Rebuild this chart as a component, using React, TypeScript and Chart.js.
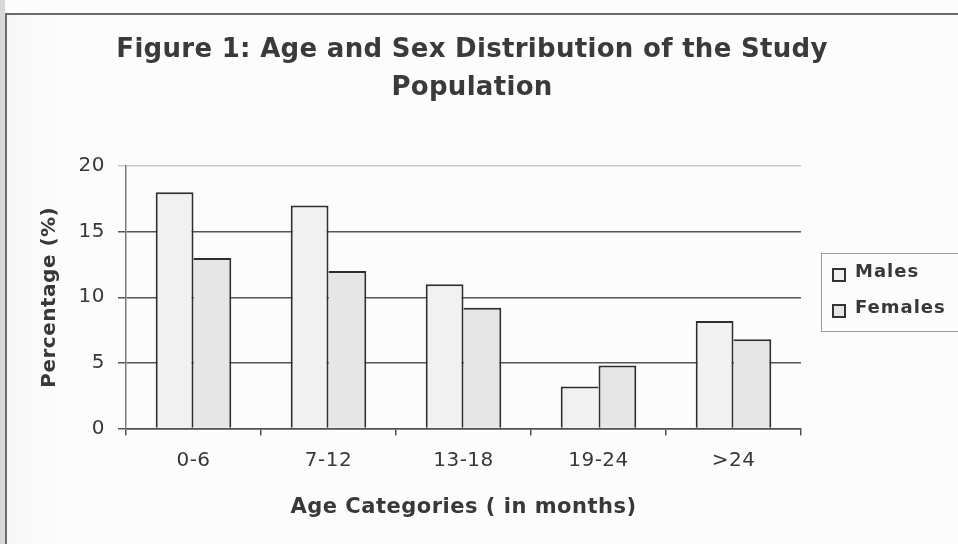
import { useEffect, useRef } from 'react';
import { Chart, registerables } from 'chart.js';

Chart.register(...registerables);

const categories = ['0-6', '7-12', '13-18', '19-24', '>24'];
const males = [18, 17, 11, 3.2, 8.2];
const females = [13, 12, 9.2, 4.8, 6.8];
const seriesLabels = ['Males', 'Females'];
const yTicks = [0, 5, 10, 15, 20];
const titleLines = ['Figure 1: Age and Sex Distribution of the Study', 'Population'];
const xTitle = 'Age Categories ( in months)';
const yTitle = 'Percentage (%)';

const FONT = '"DejaVu Sans", Verdana, sans-serif';
const TEXT = '#383838';

const paperPlugin = {
  id: 'paper',
  beforeDraw(chart: any) {
    const { ctx, width, height } = chart;
    ctx.save();
    ctx.fillStyle = '#fcfcfc';
    ctx.fillRect(0, 0, width, height);
    const g = ctx.createLinearGradient(6, 0, 60, 0);
    g.addColorStop(0, 'rgba(180,180,180,0.08)');
    g.addColorStop(1, 'rgba(180,180,180,0)');
    ctx.fillStyle = g;
    ctx.fillRect(6, 14, 60, height - 14);
    ctx.fillStyle = '#d8d8d8';
    ctx.fillRect(0, 0, 5, height);
    ctx.strokeStyle = '#6a6a6a';
    ctx.lineWidth = 2;
    ctx.beginPath();
    ctx.moveTo(6, height);
    ctx.lineTo(6, 14);
    ctx.lineTo(width, 14);
    ctx.stroke();
    ctx.restore();
    ctx.letterSpacing = '0.5px';
  },
};

const titlePlugin = {
  id: 'figTitle',
  afterDraw(chart: any) {
    const { ctx } = chart;
    ctx.save();
    ctx.letterSpacing = '0.3px';
    ctx.font = `bold 26px ${FONT}`;
    ctx.fillStyle = '#3a3a3a';
    ctx.textAlign = 'center';
    ctx.textBaseline = 'middle';
    titleLines.forEach((t, i) => ctx.fillText(t, 472, 50 + i * 38));
    ctx.restore();
  },
};

const legendPlugin = {
  id: 'boxLegend',
  afterDraw(chart: any) {
    const { ctx } = chart;
    ctx.save();
    ctx.strokeStyle = '#9a9a9a';
    ctx.lineWidth = 1;
    ctx.strokeRect(821.5, 253.5, 200, 78);
    chart.data.datasets.forEach((ds: any, i: number) => {
      const sy = 275 + i * 36;
      ctx.fillStyle = ds.backgroundColor;
      ctx.fillRect(832, sy - 7, 14, 14);
      ctx.strokeStyle = '#333333';
      ctx.lineWidth = 2;
      ctx.strokeRect(833, sy - 6, 12, 12);
      ctx.letterSpacing = '1px';
      ctx.font = `bold 18px ${FONT}`;
      ctx.fillStyle = TEXT;
      ctx.textAlign = 'left';
      ctx.textBaseline = 'middle';
      ctx.fillText(ds.label, 855, sy - 2.5);
    });
    ctx.restore();
  },
};

export default function App() {
  const ref = useRef<HTMLCanvasElement | null>(null);
  useEffect(() => {
    const canvas = ref.current;
    if (!canvas) return;
    const chart = new Chart(canvas, {
      type: 'bar',
      data: {
        labels: categories,
        datasets: [
          {
            label: seriesLabels[0],
            data: males,
            backgroundColor: '#f1f1f1',
            borderColor: '#2e2e2e',
            borderWidth: (c: any) => ({
              top: 2,
              left: 2,
              right: males[c.dataIndex] >= females[c.dataIndex] ? 2 : 0,
              bottom: 0,
            }),
            borderSkipped: false,
            inflateAmount: 0,
            categoryPercentage: 0.56,
            barPercentage: 1,
          },
          {
            label: seriesLabels[1],
            data: females,
            backgroundColor: '#e6e6e6',
            borderColor: '#2e2e2e',
            borderWidth: (c: any) => ({
              top: 2,
              left: males[c.dataIndex] >= females[c.dataIndex] ? 0 : 2,
              right: 2,
              bottom: 0,
            }),
            borderSkipped: false,
            inflateAmount: 0,
            categoryPercentage: 0.56,
            barPercentage: 1,
          },
        ],
      },
      options: {
        responsive: false,
        animation: false,
        devicePixelRatio: 1,
        layout: { padding: { left: 0, right: 157, top: 166, bottom: 0 } },
        plugins: {
          legend: { display: false },
          title: { display: false },
          tooltip: { enabled: false },
        },
        scales: {
          x: {
            grid: {
              drawOnChartArea: false,
              drawTicks: true,
              tickLength: 7,
              color: '#505050',
              lineWidth: 1.5,
              offset: true,
            },
            border: { color: '#505050', width: 1.5 },
            ticks: { font: { family: FONT, size: 20 }, color: TEXT, padding: 13 },
            title: {
              display: true,
              text: xTitle,
              font: { family: FONT, size: 21, weight: 'bold' },
              color: TEXT,
              padding: { top: 0, bottom: 24 },
            },
            afterFit: (s: any) => {
              s.height = 115.5;
            },
          },
          y: {
            min: 0,
            max: 20,
            afterBuildTicks: (s: any) => {
              s.ticks = yTicks.map((v) => ({ value: v }));
            },
            grid: {
              color: (c: any) => (c.tick && c.tick.value === 20 ? '#c8c8c8' : '#555555'),
              lineWidth: 1.5,
              tickLength: 8,
              drawTicks: true,
            },
            border: { color: '#7a7a7a', width: 1.5 },
            ticks: { font: { family: FONT, size: 20 }, color: TEXT, padding: 13 },
            title: {
              display: true,
              text: yTitle,
              font: { family: FONT, size: 20, weight: 'bold' },
              color: TEXT,
              padding: { top: 38, bottom: 0 },
            },
            afterFit: (s: any) => {
              s.width = 126;
            },
          },
        },
      },
      plugins: [paperPlugin, titlePlugin, legendPlugin],
    } as any);
    return () => chart.destroy();
  }, []);
  return (
    <canvas
      ref={ref}
      width={958}
      height={544}
      style={{ position: 'absolute', left: 0, top: 0, width: '958px', height: '544px', display: 'block' }}
    />
  );
}
